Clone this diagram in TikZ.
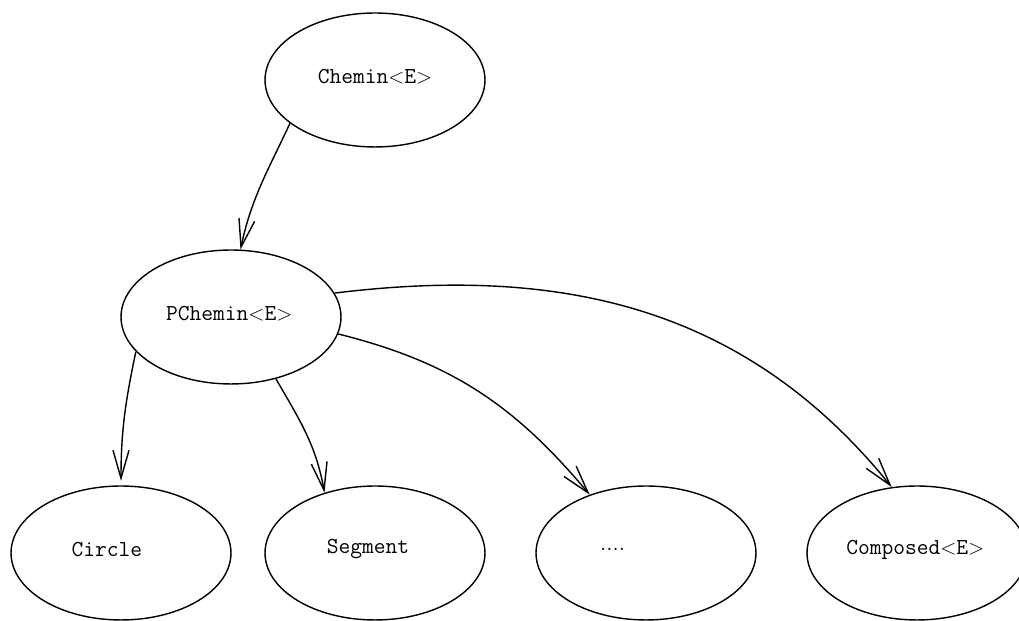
\documentclass[tikz,border=0pt]{standalone}
\usepackage{amsmath,amssymb}
\usepackage{tikz}
\usetikzlibrary{shapes.geometric,arrows.meta}

\begin{document}
\begin{tikzpicture}[x=.02cm,y=.02cm,
  bulle/.style={draw,ellipse,line width=.8pt,minimum width=4.4cm,minimum height=2.68cm,inner sep=0pt,
    font=\fontsize{13}{15}\selectfont\ttfamily},
  fleche/.style={line width=.8pt,-{Straight Barb[length=5.6mm,width=3.2mm,line width=.8pt]}}]
 \useasboundingbox (0,0) rectangle (1019,621);
 \foreach \x/\y/\id/\dx/\txt in
  {375/541/chemin/0/{Chemin$<$E$>$},231/304/pchemin/-2/{PChemin$<$E$>$},121/68/circle/-16/{Circle},
   375/68/segment/-8/{Segment},646/68/dots/-38/{\rmfamily....},917/68/composed/-2/{Composed$<$E$>$}}{
  \node[bulle] (\id) at (\x,\y) {\kern\dx pt\raisebox{2pt}[\height][\depth]{\txt}};}
 \foreach \a/\b/\o/\i/\sh in
  {chemin.207/pchemin.82/245/78/0,pchemin.200/circle.90/258/90/.9,
   pchemin.-54/segment.130/300/100/0,pchemin.-9/dots.134/-14/130/0,pchemin.13/composed.111/7/129/0}{
  \draw[fleche,shorten >=\sh mm] (\a) to[out=\o,in=\i] (\b);}
\end{tikzpicture}
\end{document}
